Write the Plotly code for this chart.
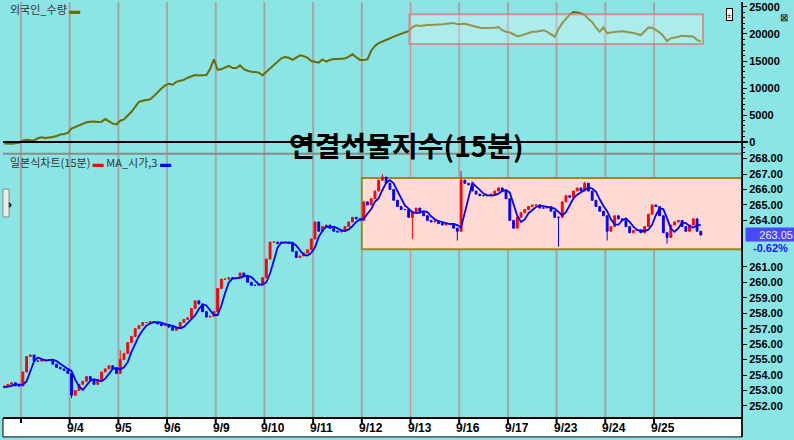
import plotly.graph_objects as go

# ---------------- data ----------------
day_labels = ['9/2', '9/3', '9/4', '9/5', '9/6', '9/9', '9/10', '9/11', '9/12',
              '9/13', '9/16', '9/17', '9/23', '9/24', '9/25']

# 30-minute sampled closes of the continuous futures index, per day
close_0902 = [253.3, 253.4, 253.5, 253.3, 253.3]
close_0903 = [254.2, 255.2, 255.3, 254.9, 254.9, 255.0, 255.0, 255.0, 254.7, 254.5, 254.4, 254.3, 254.1]
close_0904 = [252.7, 253.0, 253.4, 253.6, 253.9, 253.7, 253.4, 253.7, 254.2, 254.4, 254.6, 254.4, 254.1]
close_0905 = [255.0, 255.4, 256.1, 256.5, 257.0, 257.2, 257.4, 257.4, 257.45, 257.4, 257.3, 257.2, 257.25]
close_0906 = [257.1, 256.9, 257.05, 257.4, 257.6, 257.7, 258.3, 258.8, 258.6, 258.1, 257.75, 257.8, 258.1]
close_0909 = [259.6, 260.2, 260.2, 260.3, 260.25, 260.3, 260.6, 260.4, 260.0, 259.8, 259.8, 259.9, 260.3]
close_0910 = [261.5, 262.6, 262.6, 262.5, 262.6, 262.6, 262.5, 262.0, 261.6, 261.7, 261.9, 262.1, 262.8]
close_0911 = [263.9, 263.3, 263.6, 263.7, 263.5, 263.3, 263.25, 263.4, 263.6, 263.9, 264.2, 264.1, 264.0]
close_0912 = [265.2, 265.0, 265.4, 265.9, 266.6, 266.8, 266.4, 266.0, 265.3, 264.9, 264.7, 264.7, 264.2]
close_0913 = [264.5, 264.8, 264.5, 264.3, 264.0, 263.9, 263.95, 263.8, 263.7, 263.8, 263.8, 263.5, 263.3]
close_0916 = [266.6, 266.4, 266.3, 265.9, 265.7, 265.6, 265.6, 265.6, 265.7, 265.9, 266.1, 265.9, 265.4]
close_0917 = [264.0, 263.5, 264.2, 264.5, 264.7, 264.9, 265.0, 265.0, 264.8, 264.8, 264.9, 264.6, 264.2]
close_0923 = [264.2, 265.2, 265.6, 265.5, 265.9, 266.1, 265.9, 266.4, 265.9, 265.3, 264.9, 264.6, 264.3]
close_0924 = [263.3, 263.6, 264.3, 264.1, 264.0, 263.6, 263.2, 263.35, 263.4, 263.2, 263.6, 264.4, 265.0]
close_0925 = [264.9, 264.3, 263.2, 262.9, 263.7, 263.9, 264.0, 263.6, 263.3, 263.7, 264.1, 263.3, 263.05]
first_open = 253.2

# notable wick extremes (day, bar, price)
wick_extremes = [('9/4', 0, 252.5), ('9/5', 0, 255.6), ('9/12', 5, 267.0),
                 ('9/13', 0, 262.8), ('9/13', 12, 262.7), ('9/16', 0, 267.2),
                 ('9/23', 0, 262.3), ('9/23', 7, 266.5), ('9/24', 0, 262.7),
                 ('9/25', 3, 262.5)]

# foreign investors' net quantity (외국인_수량), per day
fgn_0902 = [-250, -300, -300, -250, -150]
fgn_0903 = [300, 430, 350, 300, 700, 880, 760, 800, 920, 1100, 1400, 1500, 1700]
fgn_0904 = [2500, 2800, 3050, 3400, 3650, 3750, 3800, 3700, 3750, 4250, 3900, 3400, 3250]
fgn_0905 = [3950, 4200, 4900, 5600, 6500, 7450, 7650, 7750, 7900, 8500, 9300, 9900, 10500]
fgn_0906 = [10800, 10600, 11150, 11350, 11500, 11900, 12200, 12400, 12300, 12300, 12400, 13500, 15300]
fgn_0909 = [13400, 13450, 13800, 14100, 13700, 13700, 14200, 13500, 13200, 13000, 12950, 12850, 12350]
fgn_0910 = [13000, 13700, 14300, 15000, 15500, 15750, 15600, 15200, 15600, 16050, 15900, 15600, 15000]
fgn_0911 = [14800, 14700, 15300, 14900, 15200, 15350, 15350, 15400, 15450, 15800, 16250, 15700, 15200]
fgn_0912 = [15200, 15300, 16900, 17800, 18300, 18650, 18900, 19200, 19500, 19800, 20100, 20300, 20500]
fgn_0913 = [21300, 21600, 21500, 21550, 21700, 21650, 21650, 21750, 21800, 21900, 21950, 22050, 21800]
fgn_0916 = [21850, 21900, 21700, 21500, 21250, 21150, 21100, 21100, 21100, 21150, 21300, 20700, 20400]
fgn_0917 = [20300, 19950, 19600, 19700, 19900, 20200, 20400, 20400, 20550, 20700, 20400, 20000, 19500]
fgn_0923 = [20900, 22000, 22800, 23600, 24050, 24000, 23800, 23500, 22800, 22200, 21200, 20400, 21200]
fgn_0924 = [20100, 20300, 20400, 20500, 20500, 20400, 20350, 20200, 20000, 19800, 20500, 21200, 21150]
fgn_0925 = [20700, 20300, 19600, 18700, 19200, 19400, 19500, 19650, 19600, 19550, 19550, 18900, 18600]

fgn_ticks = [0, 5000, 10000, 15000, 20000, 25000]
price_ticks = [252, 253, 254, 255, 256, 257, 258, 259, 260, 261, 264, 265, 266, 267, 268]
last_price_text = '263.05'
change_text = '-0.62%'
box_band = (262.14, 266.75)       # price band highlighted
fgn_band = (18130, 23650)         # foreign quantity band highlighted

# ---------------- assemble ----------------
closes_by_day = [close_0902, close_0903, close_0904, close_0905, close_0906, close_0909,
                 close_0910, close_0911, close_0912, close_0913, close_0916, close_0917,
                 close_0923, close_0924, close_0925]
fgn_by_day = [fgn_0902, fgn_0903, fgn_0904, fgn_0905, fgn_0906, fgn_0909, fgn_0910,
              fgn_0911, fgn_0912, fgn_0913, fgn_0916, fgn_0917, fgn_0923, fgn_0924, fgn_0925]
BPD = 13
day_start = {}
xs, closes, fx, fy = [], [], [], []
for d, lab in enumerate(day_labels):
    start = -len(close_0902) if d == 0 else (d - 1) * BPD
    day_start[lab] = start
    for i, c in enumerate(closes_by_day[d]):
        xs.append(start + i + 0.5)
        closes.append(c)
    for i, v in enumerate(fgn_by_day[d]):
        fx.append(start + i + 0.5)
        fy.append(v)

opens = [first_open] + closes[:-1]
highs = [max(o, c) for o, c in zip(opens, closes)]
lows = [min(o, c) for o, c in zip(opens, closes)]
for lab, b, p in wick_extremes:
    k = xs.index(day_start[lab] + b + 0.5)
    if p > highs[k]:
        highs[k] = p
    else:
        lows[k] = min(lows[k], p)

ma = []
for k in range(len(opens)):
    w = opens[max(0, k - 2):k + 1]
    ma.append(sum(w) / len(w))

BG = '#8CE5E5'
AX_FONT = dict(family='Arial, Liberation Sans', size=11, color='black', weight='bold')
KFONT = 'Noto Sans CJK KR, Noto Sans, sans-serif'

fig = go.Figure()
fig.add_trace(go.Scatter(x=fx, y=fy, mode='lines', line=dict(color='#6B6B00', width=2),
                         xaxis='x', yaxis='y', hoverinfo='skip'))
fig.add_trace(go.Candlestick(x=xs, open=opens, high=highs, low=lows, close=closes,
                             increasing=dict(line=dict(color='#FF0000', width=1), fillcolor='#FF0000'),
                             decreasing=dict(line=dict(color='#0000FF', width=1), fillcolor='#0000FF'),
                             whiskerwidth=0, xaxis='x', yaxis='y2'))
fig.add_trace(go.Scatter(x=xs, y=ma, mode='lines', line=dict(color='#0000FF', width=1.8),
                         xaxis='x', yaxis='y2', hoverinfo='skip'))

XR = [-4.8, 192.5]
shapes = []
# pink price band
shapes.append(dict(type='rect', xref='x', yref='y2', x0=day_start['9/12'], x1=XR[1],
                   y0=box_band[0], y1=box_band[1], fillcolor='#FFD9D4',
                   line=dict(color='#9C8A20', width=2), layer='below'))
# day grid lines
for lab in day_labels[1:]:
    col = '#CF8F8F' if lab == '9/13' else '#A6A6A6'
    shapes.append(dict(type='line', xref='x', yref='paper', x0=day_start[lab], x1=day_start[lab],
                       y0=0, y1=1, line=dict(color=col, width=2 if lab != '9/13' else 1.5), layer='below'))
# foreign band (translucent, above)
shapes.append(dict(type='rect', xref='x', yref='y', x0=day_start['9/13'] - 0.3, x1=182.1,
                   y0=fgn_band[0], y1=fgn_band[1], fillcolor='rgba(255,255,255,0.28)',
                   line=dict(color='rgba(215,120,120,0.75)', width=2), layer='above'))
# zero line of top panel
shapes.append(dict(type='line', xref='paper', yref='y', x0=0, x1=1.008, y0=0, y1=0,
                   line=dict(color='black', width=2)))
# panel separator
sep = (418 - 152.5) / 418
shapes.append(dict(type='line', xref='paper', yref='paper', x0=0, x1=1, y0=sep, y1=sep,
                   line=dict(color='#8A8A8A', width=2)))
# x-axis band
band_b = -19 / 418
shapes.append(dict(type='rect', xref='paper', yref='paper', x0=0, x1=1, y0=band_b, y1=0,
                   fillcolor='white', line=dict(color='black', width=1)))
shapes.append(dict(type='line', xref='paper', yref='paper', x0=0, x1=1, y0=0, y1=0,
                   line=dict(color='black', width=2)))
shapes.append(dict(type='line', xref='paper', yref='paper', x0=1, x1=1, y0=band_b, y1=1,
                   line=dict(color='black', width=1.5)))
for lab in day_labels[1:]:
    shapes.append(dict(type='line', xref='x', yref='paper', x0=day_start[lab], x1=day_start[lab],
                       y0=0, y1=-5 / 418, line=dict(color='black', width=2)))
# small side button
shapes.append(dict(type='rect', xref='paper', yref='paper', x0=0, x1=6 / 739,
                   y0=(418 - 216) / 418, y1=(418 - 188) / 418, fillcolor='#EDEDED',
                   line=dict(color='#888888', width=1)))

annotations = []
for lab in day_labels[2:]:
    annotations.append(dict(x=day_start[lab], y=-10 / 418, xref='x', yref='paper', text=lab,
                            showarrow=False, xanchor='left', yanchor='middle', xshift=-5,
                            font=dict(family='Arial, Liberation Sans', size=12, color='black', weight='bold')))
annotations.append(dict(x=(406 - 3) / 739, y=(418 - 144) / 418, xref='paper', yref='paper',
                        text='연결선물지수(15분)', showarrow=False, xanchor='center', yanchor='middle',
                        font=dict(family=KFONT, size=28, color='black', weight='bold')))
annotations.append(dict(x=5 / 739, y=1 - 7 / 418, xref='paper', yref='paper',
                        text='외국인_수량 <span style="color:#6B6B00">▬</span>', showarrow=False,
                        xanchor='left', yanchor='middle', font=dict(family=KFONT, size=11, color='#333333')))
annotations.append(dict(x=5 / 739, y=(418 - 161) / 418, xref='paper', yref='paper',
                        text='일본식차트(15분) <span style="color:#FF0000">▬</span> MA_시가,3 '
                             '<span style="color:#0000FF">▬</span>', showarrow=False,
                        xanchor='left', yanchor='middle', font=dict(family=KFONT, size=11, color='#333333')))
annotations.append(dict(x=0.0035, y=(418 - 202) / 418, xref='paper', yref='paper', text='›',
                        showarrow=False, font=dict(size=11, color='black', weight='bold')))
annotations.append(dict(x=1.004, y=263.1, xref='paper', yref='y2', text=last_price_text,
                        showarrow=False, xanchor='left', yanchor='middle', bgcolor='#4848FF',
                        width=46, height=11, align='right',
                        font=dict(family='Arial, Liberation Sans', size=11, color='#EEEEFF')))
annotations.append(dict(x=(770 - 3) / 739, y=262.22, xref='paper', yref='y2', text=change_text,
                        showarrow=False, xanchor='center', yanchor='middle',
                        font=dict(family='Arial, Liberation Sans', size=11, color='#1818FF', weight='bold')))
annotations.append(dict(x=(733 - 3) / 739, y=1 - 6 / 418, xref='paper', yref='paper', text='±',
                        showarrow=False, bgcolor='white', bordercolor='black', borderwidth=1,
                        borderpad=0, font=dict(size=8, color='black')))
annotations.append(dict(x=(790 - 3) / 739, y=1 - 6 / 418, xref='paper', yref='paper', text='⊠',
                        showarrow=False, font=dict(size=10, color='black')))

fig.update_layout(
    width=794, height=440, margin=dict(l=3, r=52, t=0, b=22),
    paper_bgcolor=BG, plot_bgcolor=BG, showlegend=False,
    xaxis=dict(range=XR, showticklabels=False, showgrid=False, zeroline=False, anchor='y2',
               rangeslider=dict(visible=False), fixedrange=True),
    yaxis=dict(domain=[266 / 418, 1], range=[-2081, 25921], side='right', anchor='x',
               tickvals=fgn_ticks, ticktext=[str(v) for v in fgn_ticks], ticks='outside', ticklen=4,
               tickcolor='black', tickwidth=1, showgrid=False, zeroline=False, showline=True,
               linecolor='black', linewidth=1, tickfont=AX_FONT,
               minor=dict(dtick=1000, ticks='outside', ticklen=2, tickcolor='black')),
    yaxis2=dict(domain=[0, 265 / 418], range=[251.224, 268.277], side='right', anchor='x',
                tickvals=price_ticks, ticktext=['%.2f' % v for v in price_ticks],
                ticks='outside', ticklen=4, tickcolor='black', showgrid=False, zeroline=False,
                showline=True, linecolor='black', linewidth=1, tickfont=AX_FONT),
    shapes=shapes, annotations=annotations,
)

fig.write_html('out.html', config={'displayModeBar': False},
               post_script="document.body.style.margin='0';"
                           "document.body.style.background='%s';" % BG)
